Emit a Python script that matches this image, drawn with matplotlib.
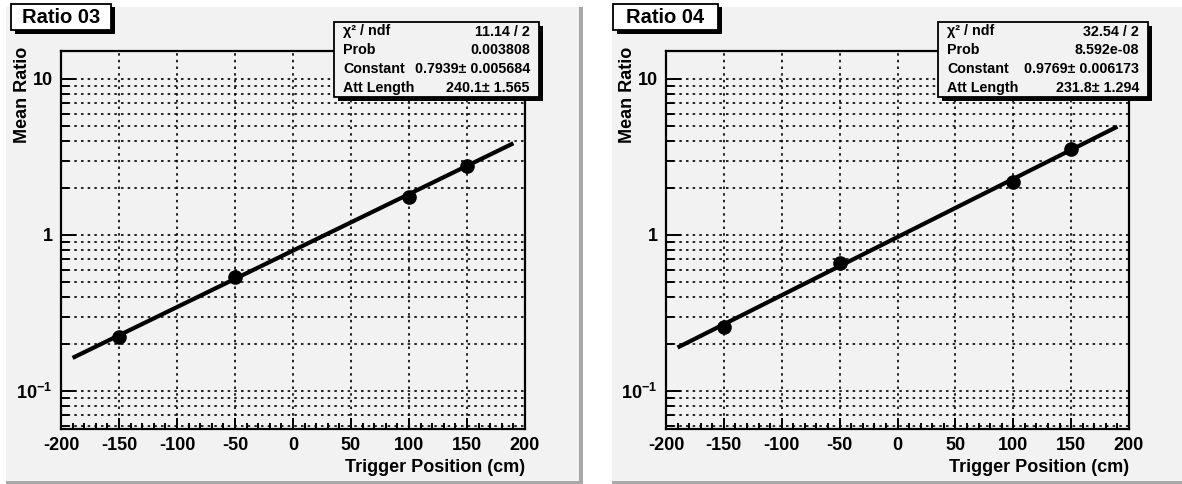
import numpy as np
import matplotlib
matplotlib.use("Agg")
import matplotlib.pyplot as plt
from matplotlib.patches import Rectangle
from matplotlib.ticker import FixedLocator, FixedFormatter, MultipleLocator

plt.rcParams['font.family'] = ['Liberation Sans', 'DejaVu Sans']
plt.rcParams['font.weight'] = 'bold'
plt.rcParams['mathtext.fontset'] = 'custom'
plt.rcParams['mathtext.rm'] = 'Liberation Sans:bold'
plt.rcParams['mathtext.default'] = 'rm'
plt.rcParams['axes.unicode_minus'] = False

# data
pos = [-150, -50, 100, 150]
ratio03 = [0.222, 0.54, 1.76, 2.77]
ratio04 = [0.258, 0.665, 2.2, 3.58]
fit_x = [-190, 190]
fit03 = [0.163, 3.87]
fit04 = [0.19, 4.95]

titles = ["Ratio 03", "Ratio 04"]
stat_names = ["\u03c7\u00b2 / ndf", "Prob", "Constant", "Att Length"]
stats03 = ["11.14 / 2", "0.003808", "0.7939\u00b1 0.005684", "240.1\u00b1 1.565"]
stats04 = ["32.54 / 2", "8.592e-08", "0.9769\u00b1 0.006173", "231.8\u00b1 1.294"]

xticks = [-200, -150, -100, -50, 0, 50, 100, 150, 200]
yticks = [0.1, 1, 10]
ylabels = ["$10^{-1}$", "1", "10"]

W, H = 1182, 484
fig = plt.figure(figsize=(W / 100, H / 100), dpi=100)
fig.patch.set_facecolor("white")


def rect(x0, y0, x1, y1, **kw):
    # pixel coords, y from top
    r = Rectangle((x0 / W, 1 - y1 / H), (x1 - x0) / W, (y1 - y0) / H,
                  transform=fig.transFigure, **kw)
    fig.add_artist(r)


def ftext(x, y, s, **kw):
    fig.text(x / W, 1 - y / H, s, **kw)


panels = [
    dict(px=(6, 583), ax=(61, 525), tb=(11, 111), sb=(334, 539),
         y=ratio03, fy=fit03, title=titles[0], stats=stats03),
    dict(px=(612, 1190), ax=(666, 1129), tb=(613, 718), sb=(938, 1148),
         y=ratio04, fy=fit04, title=titles[1], stats=stats04),
]

ax_top, ax_bot = 51, 429

for p in panels:
    x0, x1 = p['px']
    # panel background with bevel
    rect(x0, 7, x1, 484, facecolor="#a8a8a8", edgecolor="none", zorder=-3)
    rect(x0, 7, x1 - 4, 481, facecolor="#f2f2f2", edgecolor="none", zorder=-2)

    a0, a1 = p['ax']
    ax = fig.add_axes([a0 / W, 1 - ax_bot / H, (a1 - a0) / W, (ax_bot - ax_top) / H])
    ax.set_facecolor("none")
    ax.set_yscale("log")
    ax.set_xlim(-200, 200)
    ax.set_ylim(0.0571, 15.1)

    ax.plot(fit_x, p['fy'], color="black", lw=3, solid_capstyle="butt", zorder=3)
    ax.plot(pos, p['y'], "o", color="black", ms=9.5, zorder=4)

    ax.xaxis.set_major_locator(FixedLocator(xticks))
    ax.xaxis.set_minor_locator(MultipleLocator(10))
    ax.yaxis.set_major_locator(FixedLocator(yticks))
    ax.yaxis.set_major_formatter(FixedFormatter(ylabels))
    ax.yaxis.set_minor_locator(matplotlib.ticker.LogLocator(base=10, subs=np.arange(2, 10)))
    ax.yaxis.set_minor_formatter(matplotlib.ticker.NullFormatter())

    ax.tick_params(axis="x", which="major", direction="in", length=8, width=1.4,
                   labelsize=13, pad=6)
    ax.tick_params(axis="x", which="minor", direction="in", length=4.5, width=1.4)
    ax.tick_params(axis="y", which="major", direction="in", length=11, width=1.4,
                   labelsize=13, pad=6)
    ax.tick_params(axis="y", which="minor", direction="in", length=6, width=1.4)
    for lab in ax.get_xticklabels() + ax.get_yticklabels():
        lab.set_fontweight("bold")

    ax.grid(True, which="major", axis="x", color="black", lw=1.2, ls=(0, (1.5, 2.5)))
    ax.grid(True, which="both", axis="y", color="black", lw=1.2, ls=(0, (1.5, 2.5)))
    for s in ax.spines.values():
        s.set_linewidth(1.6)

    # axis titles
    ftext(a0 - 38, ax_top - 4, "Mean Ratio", rotation=90, ha="center", va="top",
          fontsize=13, fontweight="bold")
    ftext(a1, 467, "Trigger Position (cm)", ha="right", va="center",
          fontsize=13, fontweight="bold")

    # title box with shadow
    t0, t1 = p['tb']
    rect(t0 + 4, 7, t1 + 4, 34, facecolor="black", edgecolor="none", zorder=5)
    rect(t0, 4, t1, 30, facecolor="white", edgecolor="black", lw=1.3, zorder=6)
    ftext((t0 + t1) / 2, 17.5, p['title'], ha="center", va="center",
          fontsize=14.5, fontweight="bold", zorder=7)

    # stats box with shadow
    s0, s1 = p['sb']
    rect(s0 + 4, 26, s1 + 4, 101, facecolor="black", edgecolor="none", zorder=5)
    rect(s0, 22, s1, 97, facecolor="#f2f2f2", edgecolor="black", lw=1.3, zorder=6)
    for i, (name, val) in enumerate(zip(stat_names, p['stats'])):
        yy = 31.5 + i * 18.7
        ftext(s0 + 9, yy, name, ha="left", va="center", fontsize=10.3,
              fontweight="bold", zorder=7)
        ftext(s1 - 9, yy, val, ha="right", va="center", fontsize=10.3,
              fontweight="bold", zorder=7)

fig.savefig("out.png", dpi=100)
